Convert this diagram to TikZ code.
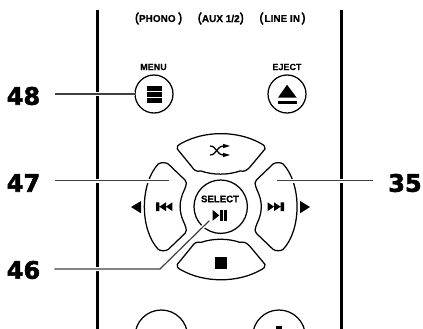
\documentclass[tikz,border=0pt]{standalone}
\usepackage{fontspec}
\setmainfont{Liberation Sans}
\newfontfamily\keyfont[BoldFeatures={FakeBold=0.5}]{Liberation Sans}
\newfontfamily\calloutfont[BoldFeatures={FakeBold=2.2}]{DejaVu Sans}
\usetikzlibrary{calc}

\tikzset{
  btnline/.style={line width=1.25pt, line join=round},
  panel/.style={line width=3pt},
  leader/.style={line width=1.2pt, black!75, preaction={draw, white, line width=4pt}},
  keytext/.style={font=\keyfont\bfseries\fontsize{9.6}{11}\selectfont, inner sep=0pt},
  sourcetext/.style={font=\keyfont\bfseries\fontsize{10}{11}\selectfont, inner sep=0pt},
  smalltext/.style={font=\keyfont\bfseries\fontsize{9}{11}\selectfont, inner sep=0pt},
  callout/.style={font=\calloutfont\bfseries\fontsize{24}{26}\selectfont, inner sep=0pt, text=black}
}

\newcommand{\sidekey}{(-62.4,-42.7) .. controls (-60,-44.5) and (-55,-44.5) .. (-52.4,-42.7)
  -- (-35.7,-26.7) .. controls (-34,-25) and (-33.6,-23.5) .. (-36.4,-16.7)
  .. controls (-42,-5) and (-42,5) .. (-36.4,16.7)
  .. controls (-33.6,23.5) and (-34,25) .. (-35.7,26.7)
  -- (-52.4,42.7) .. controls (-55,44.5) and (-60,44.5) .. (-62.4,42.7)
  .. controls (-81,23) and (-81,-23) .. (-62.4,-42.7) -- cycle}
\newcommand{\topkey}{(-38.7,-63.7) .. controls (-15.7,-76.2) and (16.3,-76.2) .. (39.3,-63.7)
  .. controls (43.5,-61.5) and (45,-60) .. (44.3,-57.7)
  -- (29.3,-39.7) .. controls (26.3,-36.7) and (24.3,-34.7) .. (19.3,-35.7)
  .. controls (7.3,-31.5) and (-7.7,-31.5) .. (-19.7,-35.7)
  .. controls (-24.7,-34.7) and (-26.7,-36.7) .. (-28.7,-39.7)
  -- (-43.4,-57.7) .. controls (-44.5,-60) and (-43,-61.5) .. (-38.7,-63.7) -- cycle}
\newcommand{\skipicon}{(0,-4.4) rectangle (3.3,4.4)
  (3.3,0) -- (10,-4.4) -- (10,4.4) -- cycle
  (10,0) -- (16.4,-4.4) -- (16.4,4.4) -- cycle}

\begin{document}
\begin{tikzpicture}[x=1pt, y=-1pt]
  \useasboundingbox (0,0) rectangle (423,329);
  \clip (0,0) rectangle (423,329);

  \draw[panel] (97.5,10) -- (97.5,329);
  \draw[panel] (341.7,10) -- (341.7,329);

  \foreach \lx/\rx/\word/\x in {135.5/181.7/PHONO/157.3, 198.3/243.3/AUX 1\slash 2/220.8, 260/305/LINE IN/282.3} {
    \draw[line width=1.5pt] (\lx+3,12.5) .. controls (\lx,15) and (\lx,22) .. (\lx+3,24.5);
    \draw[line width=1.5pt] (\rx-3,12.5) .. controls (\rx,15) and (\rx,22) .. (\rx-3,24.5);
    \node[sourcetext] at (\x,18.5) {\word};
  }

  \coordinate (menu) at (154,94);
  \coordinate (eject) at (287,94);
  \coordinate (sel) at (220.7,206.7);

  \node[smalltext] (menutext) at (153.5,67) {MENU};
  \node[smalltext] (ejecttext) at (287,67) {EJECT};
  \draw[btnline] (menu) circle (19);
  \draw[btnline] (eject) circle (19);
  \fill (146.7,86) rectangle (162,90.7);
  \fill (146.7,92) rectangle (162,96.7);
  \fill (146.7,98.3) rectangle (162,103);
  \fill (287,84.7) -- (296.7,97.7) -- (278,97.7) -- cycle;
  \fill (278,101) rectangle (296.7,104.3);

  \begin{scope}[shift={(sel)}]
    \draw[btnline] \sidekey;
    \draw[btnline, xscale=-1] \sidekey;
    \draw[btnline] \topkey;
    \draw[btnline, yscale=-1] \topkey;
    \draw[btnline] (0,0) circle (26.7);
  \end{scope}

  \draw[line width=1.3pt] (210,146) .. controls (217,146) and (216,155) .. (224,155);
  \draw[line width=1.3pt] (210,155) .. controls (217,155) and (216,146) .. (224,146);
  \fill (230,146) -- (223,143.8) -- (223,148.2) -- cycle;
  \fill (230,155) -- (223,152.8) -- (223,157.2) -- cycle;

  \fill (131,207) -- (141,201) -- (141,213.3) -- cycle;
  \fill (310,207) -- (300,201) -- (300,213.3) -- cycle;
  \fill[shift={(156,206.7)}] \skipicon;
  \fill[shift={(284,206.7)}, xscale=-1] \skipicon;

  \node[keytext] (seltext) at (220,199) {SELECT};
  \fill (212.7,210) -- (219.3,215.3) -- (212.7,220.7) -- cycle;
  \fill (220,209.7) rectangle (222.7,220.7);
  \fill (224.3,209.7) rectangle (227,220.7);

  \fill (215,256.7) rectangle (227.3,269);

  \draw[btnline] (161.3,336.3) circle (26.3);
  \draw[btnline] (279,336.3) circle (26.3);
  \fill (276,326) rectangle (282,329);

  \node[callout] (lab48) at (23.5,96) {48};
  \node[callout] (lab47) at (23.5,183) {47};
  \node[callout] (lab46) at (23.5,270) {46};
  \node[callout] (lab35) at (405,183) {35};

  \coordinate (to48) at (135,94);
  \coordinate (to47) at (169.3,180.7);
  \coordinate (bend46) at (160,269);
  \coordinate (to46) at (209.3,220.7);
  \coordinate (to35) at (277.3,180.7);

  \draw[leader] (lab48.east |- to48) ++(15,0) -- (to48);
  \draw[leader] (lab47.east |- to47) ++(15,0) -- (to47);
  \draw[leader] (lab46.east |- bend46) ++(14,0) -- (bend46) -- (to46);
  \draw[leader] (lab35.west |- to35) ++(-15,0) -- (to35);
\end{tikzpicture}
\end{document}
